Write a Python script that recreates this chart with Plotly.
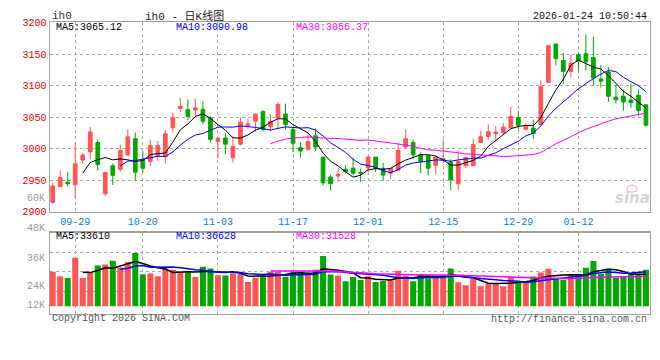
import plotly.graph_objects as go
import pandas as pd

# ---------------- data ----------------
dates = (
    ["09-24", "09-25", "09-26", "09-29", "09-30", "10-09", "10-10",
     "10-13", "10-14", "10-15", "10-16", "10-17",
     "10-20", "10-21", "10-22", "10-23", "10-24",
     "10-27", "10-28", "10-29", "10-30", "10-31",
     "11-03", "11-04", "11-05", "11-06", "11-07",
     "11-10", "11-11", "11-12", "11-13", "11-14",
     "11-17", "11-18", "11-19", "11-20", "11-21",
     "11-24", "11-25", "11-26", "11-27", "11-28",
     "12-01", "12-02", "12-03", "12-04", "12-05",
     "12-08", "12-09", "12-10", "12-11", "12-12",
     "12-15", "12-16", "12-17", "12-18", "12-19",
     "12-22", "12-23", "12-24", "12-25", "12-26",
     "12-29", "12-30", "12-31",
     "01-05", "01-06", "01-07", "01-08", "01-09",
     "01-12", "01-13", "01-14", "01-15", "01-16",
     "01-19", "01-20", "01-21", "01-22", "01-23"]
)

opens = [2914.8, 2939.8, 2946.9, 2942.9, 2982.1, 2994.9, 3009.7, 2928.6, 2973.0, 2967.3,
         2989.8, 3015.8, 2982.1, 2979.6, 2989.3, 2987.2, 3033.2, 3063.8, 3061.7, 3061.3,
         3062.2, 3048.5, 3011.7, 3016.8, 2985.7, 3007.1, 3036.7, 3043.4, 3058.7, 3034.7,
         3048.5, 3055.1, 3030.6, 3001.5, 2999.0, 3020.4, 2986.7, 2955.1, 2956.6, 2967.3,
         2968.9, 2962.3, 2969.4, 2986.7, 2968.9, 2961.2, 2965.8, 3002.6, 3009.7, 2990.8,
         2988.8, 2973.0, 2980.6, 2978.6, 2944.4, 2973.0, 2973.0, 3009.7, 3019.4, 3024.0,
         3025.5, 3033.2, 3049.5, 3030.6, 3032.6, 3038.3, 3105.1, 3165.8, 3139.7, 3122.4,
         3149.0, 3150.5, 3144.3, 3110.2, 3121.4, 3081.6, 3083.1, 3077.0, 3084.7, 3069.4]
highs = [2946.4, 2965.3, 2963.8, 3009.7, 2993.4, 3034.2, 3014.3, 2962.3, 2976.5, 3006.1,
         3030.6, 3025.5, 2995.9, 3014.3, 3012.2, 3029.1, 3057.1, 3080.1, 3078.0, 3079.1,
         3075.0, 3051.0, 3016.8, 3024.5, 3019.9, 3049.5, 3047.4, 3056.1, 3061.2, 3055.1,
         3074.0, 3071.4, 3034.2, 3010.2, 3025.5, 3032.1, 2986.7, 2958.7, 2969.9, 2974.0,
         2985.7, 2968.4, 2986.7, 2986.7, 2977.6, 2968.9, 3007.1, 3030.6, 3014.3, 2994.4,
         2989.8, 2990.3, 3014.3, 2983.2, 2997.4, 2986.2, 3015.8, 3028.6, 3038.8, 3035.7,
         3040.3, 3066.3, 3059.7, 3039.8, 3045.9, 3109.2, 3163.3, 3165.8, 3151.5, 3149.4,
         3151.5, 3181.1, 3177.5, 3132.6, 3129.1, 3102.0, 3093.3, 3103.0, 3094.4, 3070.4]
lows = [2912.8, 2939.8, 2939.8, 2922.0, 2976.5, 2983.2, 2965.3, 2924.5, 2942.4, 2963.8,
        2989.8, 2950.0, 2962.8, 2971.9, 2980.6, 2976.5, 3025.5, 3057.6, 3044.9, 3051.0,
        3039.3, 3010.2, 2984.7, 2991.3, 2978.0, 3005.1, 3031.6, 3027.0, 3027.0, 3028.0,
        3031.1, 3030.6, 2994.9, 2985.7, 2997.4, 2996.4, 2941.3, 2933.7, 2947.4, 2960.8,
        2957.7, 2947.4, 2962.8, 2962.8, 2949.0, 2952.6, 2965.8, 3001.0, 2984.2, 2961.2,
        2957.7, 2959.2, 2980.6, 2934.7, 2934.7, 2969.4, 2973.0, 3009.7, 3014.3, 3011.2,
        3023.0, 3033.2, 3030.6, 3030.6, 3015.3, 3038.3, 3105.1, 3131.6, 3103.0, 3113.2,
        3122.4, 3124.0, 3099.5, 3096.9, 3074.0, 3071.4, 3060.2, 3064.8, 3052.0, 3034.7]
closes = [2940.8, 2954.6, 2944.4, 2976.0, 2989.8, 3026.5, 2975.0, 2962.3, 2957.7, 2997.4,
          3018.9, 2962.8, 2968.9, 3005.1, 3005.1, 3023.5, 3049.5, 3066.8, 3051.0, 3064.9,
          3043.4, 3014.8, 3016.8, 3007.1, 3003.6, 3041.8, 3039.3, 3054.6, 3030.6, 3042.9,
          3069.9, 3038.3, 3008.7, 2996.4, 3011.2, 3002.6, 2945.9, 2944.4, 2959.2, 2963.8,
          2961.2, 2961.2, 2986.7, 2968.9, 2958.2, 2968.9, 2997.4, 3015.8, 2990.3, 2979.6,
          2968.9, 2986.7, 2984.2, 2950.5, 2979.6, 2986.2, 3006.6, 3018.9, 3027.0, 3026.5,
          3034.2, 3051.0, 3037.2, 3035.7, 3024.0, 3098.5, 3163.3, 3142.9, 3122.4, 3135.2,
          3138.7, 3137.7, 3112.2, 3107.1, 3083.1, 3077.6, 3074.0, 3073.0, 3060.2, 3037.2]
volumes = [36540, 31760, 29710, 51220, 29710, 35170, 43030, 44050, 48150, 40980,
           46790, 56350, 33810, 34490, 31760, 39960, 38590, 36540, 35520, 30740,
           41660, 39960, 32780, 32440, 34830, 34150, 25610, 30050, 33470, 36540,
           36540, 31080, 36200, 36540, 33130, 38590, 52930, 33470, 32440, 26300,
           30740, 27660, 31760, 25610, 26640, 27320, 37570, 32440, 26300, 33470,
           29370, 32440, 33470, 39960, 25270, 22200, 29030, 21170, 23910, 23910,
           21170, 31420, 25950, 26300, 31420, 35520, 39610, 30050, 28000, 32440,
           33470, 40640, 47810, 34150, 39610, 30050, 31760, 34150, 34150, 38590]

date_tick_labels = ["09-29", "10-20", "11-03", "11-17", "12-01", "12-15", "12-29", "01-12"]
price_ticks = [2900, 2950, 3000, 3050, 3100, 3150, 3200]
vol_tick_labels = ["48K", "36K", "24K", "12K"]
price_ma_texts = ["MA5:3065.12", "MA10:3090.98", "MA30:3056.37"]
vol_ma_texts = ["MA5:33610", "MA10:36628", "MA30:31528"]
symbol = "ih0"
title_text = "ih0 - 日K线图"
timestamp = "2026-01-24 10:50:44"

# ---------------- styling ----------------
W, H = 660, 360
RED = "#ff5555"
GREEN = "#00a800"
MONO = "Liberation Mono, DejaVu Sans Mono, monospace"
GRID = "#aaaaaa"
BORDER = "#a0a0a0"


def px(y):
    return 1 - y / H


idx = list(range(len(dates)))
cs = pd.Series(closes)
vs = pd.Series(volumes)
ma_colors = {5: "black", 10: "#0000ff", 30: "#ff00ff"}
bar_colors = [RED if c >= o else GREEN for o, c in zip(opens, closes)]
tick_pos = [dates.index(d) for d in date_tick_labels]

fig = go.Figure()
fig.add_trace(go.Candlestick(
    x=idx, open=opens, high=highs, low=lows, close=closes,
    increasing=dict(line=dict(color=RED, width=1), fillcolor=RED),
    decreasing=dict(line=dict(color=GREEN, width=1), fillcolor=GREEN),
    xaxis="x", yaxis="y", hoverinfo="skip"))
for n, col in ma_colors.items():
    fig.add_trace(go.Scatter(x=idx, y=cs.rolling(n).mean(), mode="lines",
                             line=dict(color=col, width=1), xaxis="x", yaxis="y",
                             hoverinfo="skip"))
fig.add_trace(go.Bar(x=idx, y=volumes, marker=dict(color=bar_colors, line=dict(width=0)),
                     width=0.8, xaxis="x2", yaxis="y2", hoverinfo="skip"))
for n, col in ma_colors.items():
    fig.add_trace(go.Scatter(x=idx, y=vs.rolling(n).mean(), mode="lines",
                             line=dict(color=col, width=1.5), xaxis="x2", yaxis="y2",
                             hoverinfo="skip"))

xdom = [50 / W, 649.5 / W]
xrange_ = [-0.36, 79.47]
vol_px = 1024.5  # volume per pixel
vol_base_y = 310.7


def vol_at(y):
    return (vol_base_y - y) * vol_px


common_x = dict(domain=xdom, range=xrange_, tickmode="array", tickvals=tick_pos,
                showgrid=True, gridcolor=GRID, griddash="dot", gridwidth=1,
                zeroline=False, showline=True, mirror=True, linecolor=BORDER,
                linewidth=1.5, ticks="", fixedrange=True)

fig.update_layout(
    width=W, height=H, margin=dict(l=0, r=0, t=0, b=0),
    paper_bgcolor="white", plot_bgcolor="white", showlegend=False,
    font=dict(family=MONO, size=10),
    boxgap=0.3,
    xaxis=dict(**common_x, anchor="y", ticktext=date_tick_labels,
               tickfont=dict(color="#0a80d0", size=10, family=MONO),
               rangeslider=dict(visible=False)),
    yaxis=dict(domain=[px(213.3), px(18)], range=[2900, 3200], tickvals=price_ticks,
               tickfont=dict(color="#ee0000", size=10, family=MONO),
               showgrid=True, gridcolor=GRID, griddash="dot", zeroline=False,
               showline=True, mirror=True, linecolor=BORDER, linewidth=1.5,
               ticks="", anchor="x", fixedrange=True),
    xaxis2=dict(**common_x, anchor="y2", matches="x", showticklabels=False),
    yaxis2=dict(domain=[px(318.3), px(234.7)], range=[vol_at(318.3), vol_at(234.7)],
                tickvals=[vol_at(255.3), vol_at(275.3), vol_at(295.3)],
                showticklabels=False, showgrid=True, gridcolor=GRID, griddash="dot",
                zeroline=False, showline=True, mirror=True, linecolor=BORDER,
                linewidth=1.5, ticks="", anchor="x2", fixedrange=True),
)

ann = []


def text(x, y, s, color, anchor="left", size=10, **kw):
    ann.append(dict(x=x / W, y=px(y), xref="paper", yref="paper", text=s,
                    showarrow=False, xanchor=anchor, yanchor="middle",
                    font=dict(family=kw.pop("family", MONO), size=size, color=color, **kw)))


text(50, 11, symbol, "#333333", size=11)
text(185, 11, title_text, "#222222", anchor="center", size=11,
     family="Liberation Mono, Noto Sans CJK SC, monospace")
text(649, 12, timestamp, "#111111", anchor="right")
for s, x0, col in zip(price_ma_texts, [54, 174, 294], ["black", "#0000ff", "#ff00ff"]):
    text(x0, 23.7, s, col)
for s, x0, col in zip(vol_ma_texts, [54, 174, 294], ["black", "#0000ff", "#ff00ff"]):
    text(x0, 238.7, s, col)
for s, y0 in zip(vol_tick_labels, [231, 261, 290, 310]):
    text(47, y0, s, "#999999", anchor="right")
text(47, 199.5, "60K", "#999999", anchor="right")
text(50, 323.5, "Copyright 2026 SINA.COM", "#555555")
text(649, 324, "http://finance.sina.com.cn", "#555555", anchor="right")
text(652, 199, "sina", "#d6d6d6", anchor="right", size=15,
     family="DejaVu Sans, sans-serif", weight="bold", style="italic")
fig.update_layout(annotations=ann)
fig.add_shape(type="circle", xref="paper", yref="paper",
              x0=627 / W, x1=637 / W, y0=px(193), y1=px(186),
              line=dict(color="#f2c4c4", width=1.5), fillcolor="rgba(0,0,0,0)")

fig.write_html("out.html", config={"displayModeBar": False, "staticPlot": True},
               post_script="document.body.style.margin='0';document.body.style.overflow='hidden';")
